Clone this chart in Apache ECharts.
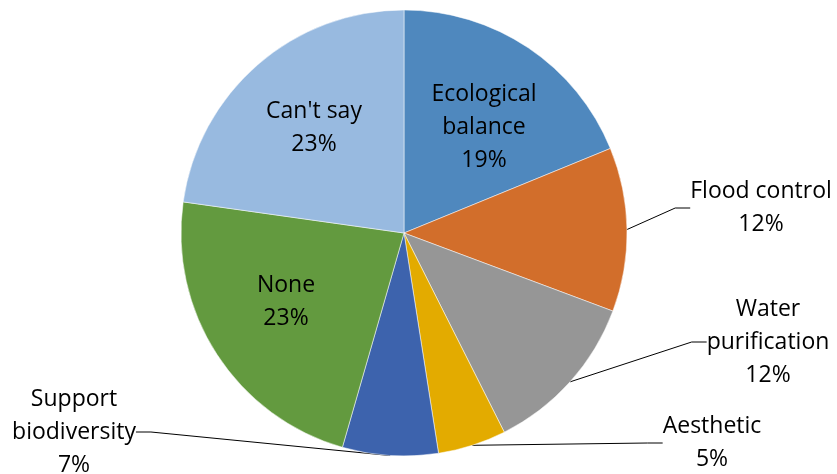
<!DOCTYPE html>
<html>
<head>
<meta charset="utf-8">
<script src="https://cdn.jsdelivr.net/npm/echarts@6/dist/echarts.min.js"></script>
<style>
  html, body { margin: 0; padding: 0; background: #ffffff; }
  #chart { width: 837px; height: 474px; }
</style>
</head>
<body>
<div id="chart"></div>
<script>
// Perceived ecosystem services (share of respondents, %)
const categories = [
  'Ecological\nbalance',
  'Flood control',
  'Water\npurification',
  'Aesthetic',
  'Support\nbiodiversity',
  'None',
  "Can't say"
];
const shares = [19, 12, 12, 5, 7, 23, 23];
const sliceColors = ['#4F88BE', '#D26E2B', '#969696', '#E3AB00', '#3D63AD', '#639A3F', '#98BAE0'];

// Label anchor points (centre of each text block) and which labels sit inside their slice
const labelAnchors = [
  [484, 127], [761, 208], [768, 342], [712, 443], [74, 432], [286, 302], [314, 128]
];
const insideLabel = [true, false, false, false, false, true, true];

const chart = echarts.init(document.getElementById('chart'), null, { renderer: 'canvas' });

chart.setOption({
  animation: false,
  series: [{
    type: 'pie',
    center: [404, 233],
    radius: 223,
    startAngle: 90,
    clockwise: true,
    avoidLabelOverlap: false,
    itemStyle: { borderColor: '#ffffff', borderWidth: 0.5 },
    label: {
      show: true,
      formatter: p => p.name + '\n' + p.value + '%',
      fontFamily: 'Open Sans',
      fontSize: 23,
      lineHeight: 33,
      color: '#000000',
      align: 'center'
    },
    labelLine: {
      show: true,
      length: 20,
      length2: 15,
      lineStyle: { color: '#000000', width: 1 }
    },
    emphasis: { disabled: true },
    labelLayout: function (params) {
      const i = params.dataIndex;
      return {
        x: labelAnchors[i][0],
        y: labelAnchors[i][1],
        align: 'center',
        verticalAlign: 'middle'
      };
    },
    data: categories.map((name, i) => ({
      name: name,
      value: shares[i],
      itemStyle: { color: sliceColors[i] },
      label: { position: insideLabel[i] ? 'inside' : 'outside' },
      labelLine: { show: !insideLabel[i] }
    }))
  }]
});
</script>
</body>
</html>
